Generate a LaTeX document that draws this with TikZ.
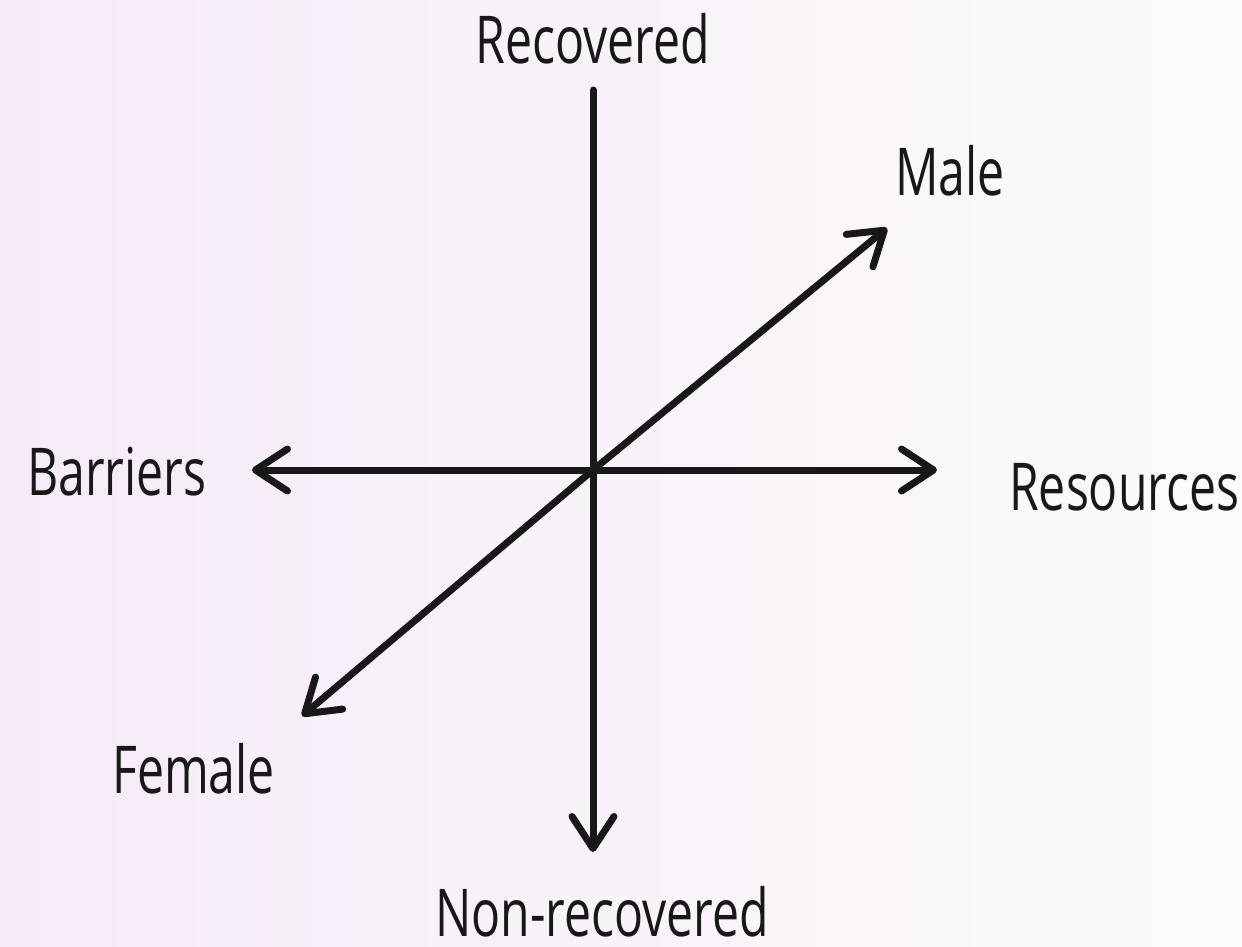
\documentclass[tikz,border=0pt]{standalone}
\usepackage{fontspec}
\setmainfont[FakeStretch=0.73]{Open Sans}
\usetikzlibrary{arrows.meta}
\definecolor{bgpink}{RGB}{245,235,248}
\definecolor{bgwhite}{RGB}{252,251,250}
\definecolor{ink}{RGB}{24,24,24}
\begin{document}
\begin{tikzpicture}[x=1pt,y=-1pt,
  axis/.style={draw=ink,line width=7pt,line cap=round},
  tip/.style={-{Straight Barb[length=32pt,width=42pt,round]}},
  lbl/.style={inner sep=0pt,text=ink,font=\fontsize{66}{70}\selectfont}]
\useasboundingbox (0,0) rectangle (1242,946);
\shade[left color=bgpink,right color=bgwhite] (0,0) rectangle (1242,946);
\coordinate (c) at (593,470);
\coordinate (top) at (593,90);
\coordinate (bot) at (593,852);
\coordinate (lft) at (252,470);
\coordinate (rgt) at (937,470);
\coordinate (ne) at (887,228);
\coordinate (sw) at (302,716);
\draw[axis] (c) -- (top);
\draw[axis,tip] (c) -- (bot);
\draw[axis,tip] (c) -- (lft);
\draw[axis,tip] (c) -- (rgt);
\draw[axis,tip] (c) -- (ne);
\draw[axis,tip] (c) -- (sw);
\node[lbl,anchor=base] (recovered) at (593,63) {Recovered};
\node[lbl,anchor=base west] (male) at (895,195) {Male};
\node[lbl,anchor=base west] (barriers) at (27,495) {Barriers};
\node[lbl,anchor=base west] (resources) at (1009,510) {Resources};
\node[lbl,anchor=base west] (female) at (112,793) {Female};
\node[lbl,anchor=base west] (nonrec) at (435,936) {Non-recovered};
\end{tikzpicture}
\end{document}
